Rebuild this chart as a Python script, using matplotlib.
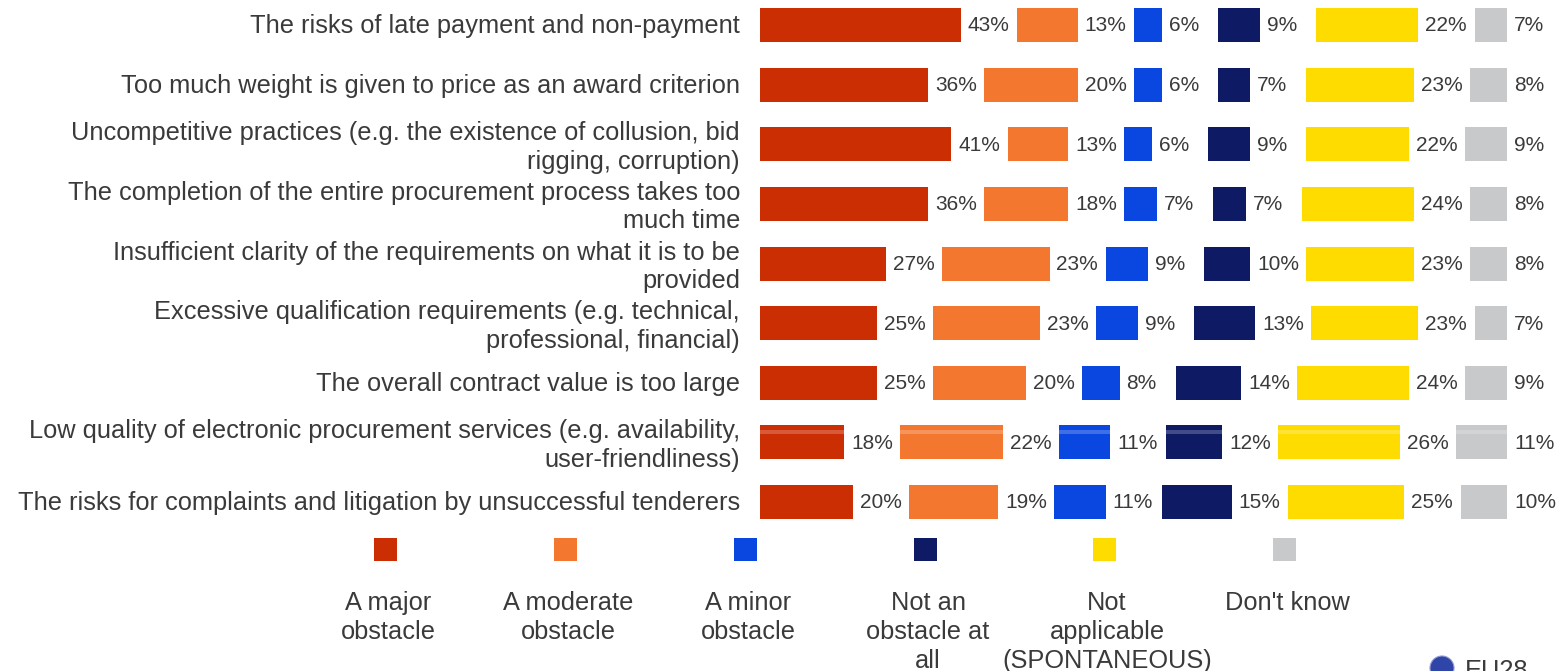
import matplotlib
matplotlib.use("Agg")
import matplotlib.pyplot as plt
import numpy as np
from matplotlib.patches import Rectangle, Circle
from matplotlib.transforms import IdentityTransform

categories = [
    "The risks of late payment and non-payment",
    "Too much weight is given to price as an award criterion",
    "Uncompetitive practices (e.g. the existence of collusion, bid\nrigging, corruption)",
    "The completion of the entire procurement process takes too\nmuch time",
    "Insufficient clarity of the requirements on what it is to be\nprovided",
    "Excessive qualification requirements (e.g. technical,\nprofessional, financial)",
    "The overall contract value is too large",
    "Low quality of electronic procurement services (e.g. availability,\nuser-friendliness)",
    "The risks for complaints and litigation by unsuccessful tenderers",
]
series_names = ["A major\nobstacle", "A moderate\nobstacle", "A minor\nobstacle",
                "Not an\nobstacle at\nall", "Not\napplicable\n(SPONTANEOUS)", "Don't know"]
major = [43, 36, 41, 36, 27, 25, 25, 18, 20]
moderate = [13, 20, 13, 18, 23, 23, 20, 22, 19]
minor = [6, 6, 6, 7, 9, 9, 8, 11, 11]
not_obstacle = [9, 7, 9, 7, 10, 13, 14, 12, 15]
not_applicable = [22, 23, 22, 24, 23, 23, 24, 26, 25]
dont_know = [7, 8, 9, 8, 8, 7, 9, 11, 10]
series = [major, moderate, minor, not_obstacle, not_applicable, dont_know]
colors = ["#CC2E04", "#F47730", "#0A46E0", "#0E1A63", "#FFDC00", "#C8C9CB"]
gap = 12  # room left for the value label after each segment, in axis units

W, H = 1562, 671
PX = 4.67      # pixels per percent
X0 = 760       # pixel of 0%
Y0, DY = 25, 59.63
TXT = "#3a3a3a"
FS_VAL = 15.0
FS = 18.3

plt.rcParams["font.family"] = ["Liberation Sans", "DejaVu Sans"]
fig = plt.figure(figsize=(W / 100, H / 100), dpi=100)
ax = fig.add_axes([0, 0, 1, 1])
ax.set_xlim(-X0 / PX, (W - X0) / PX)
ax.set_ylim((H - Y0) / DY, -Y0 / DY)
ax.axis("off")

y = np.arange(len(categories))
left = np.zeros(len(categories))
for vals, c in zip(series, colors):
    vals = np.array(vals)
    cont = ax.barh(y, vals, left=left, height=0.57, color=c, linewidth=0)
    anns = ax.bar_label(cont, labels=[f"{v}%" for v in vals], padding=5,
                        fontsize=FS_VAL, color=TXT, label_type="edge")
    for a in anns:
        a.set_va("center_baseline")
        a.xyann = (5, 0.8)
    # faint lighter streak that crosses the eighth row in the source image
    ax.barh(y[7] - 0.17, vals[7], left=left[7], height=0.06, color="white",
            alpha=0.22, linewidth=0)
    left = left + vals + gap

for yi, cat in zip(y, categories):
    ax.text(-20 / PX, yi - 1.5 / DY, cat, ha="right", va="center_baseline",
            fontsize=FS, color=TXT, linespacing=1.23)

# legend
swatch_x = [374, 554, 734, 914, 1093, 1273]
text_x = [388, 568, 748, 928, 1107, 1287]
for sx, tx, c, name in zip(swatch_x, text_x, colors, series_names):
    fig.add_artist(Rectangle((sx, H - 561), 23, 23, transform=IdentityTransform(),
                             facecolor=c, linewidth=0))
    fig.text(tx / W, 1 - 591 / H, name, ha="center", va="top", fontsize=FS,
             color=TXT, linespacing=1.26, multialignment="center")

# EU28 marker, cut by the lower edge as in the source
fig.add_artist(Circle((1442, H - 668), 12, transform=IdentityTransform(),
                      facecolor="#2F46A8", edgecolor="#8f9ad0", linewidth=0.8))
fig.text(1465 / W, 1 - 659 / H, "EU28", ha="left", va="top", fontsize=FS, color=TXT)

fig.savefig("out.png", dpi=100, facecolor="white")
